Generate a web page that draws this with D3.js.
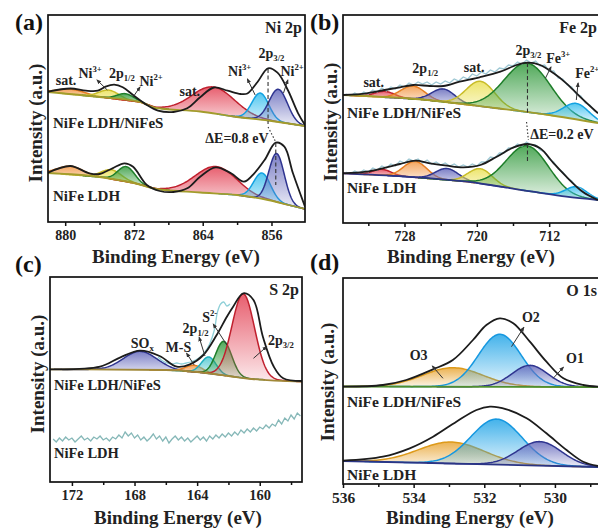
<!DOCTYPE html>
<html>
<head>
<meta charset="utf-8">
<script src="https://cdn.jsdelivr.net/npm/d3@7"></script>
<style>
  body { margin: 0; background: #fff; }
  svg { display: block; font-family: "Liberation Serif", "Times New Roman", serif; font-weight: bold; }
</style>
</head>
<body>
<div id="chart"></div>
<script>
// ---------- (a) Ni 2p ----------
const niTicks = [880, 872, 864, 856];
const niMinor = [876, 868, 860];
const niTopBase = [[882, 130], [876, 125], [871.3, 120], [869.4, 114], [864.3, 110.5], [860.4, 105.5], [856.4, 101.5], [852.1, 96]];
const niTopPeaks = [[879.3, 5, 3.7], [874.9, 8, 2.7], [873.0, 6.5, 2.3], [862.7, 26.5, 5.8], [857.3, 26.5, 2.3], [855.2, 32.7, 2.5]];
const niTopEnv = [[882, 130.3], [879.4, 133.5], [877.6, 131.3], [876.2, 131.3], [875.3, 135.3], [874.3, 137.3], [873.3, 134.7], [872.1, 127], [870.5, 117], [869.2, 111.3], [867.4, 110], [865.8, 113.7], [864.3, 124.7], [862.7, 134.5], [861.1, 131.3], [859.6, 128], [858.8, 128.5], [857.6, 140.3], [856.4, 153.7], [855.3, 149.3], [854.1, 132], [852.9, 108.7], [852.1, 97]];
const niBotBase = [[882, 49], [876, 45], [872, 39], [869.4, 33], [864.3, 29.5], [860, 27], [856.4, 22], [854, 17], [852.1, 13]];
const niBotPeaks = [[879.4, 8.5, 3.5], [874.6, 9.3, 2.7], [872.9, 15, 2.3], [862.5, 27, 5.6], [857.1, 26, 2.3], [855.4, 48.5, 2.1]];
const niBotEnv = [[882, 49.3], [879.4, 56], [877.2, 48.7], [876, 48], [874.5, 53.7], [873.1, 58.7], [872.1, 55.3], [870.5, 37], [869, 31], [867.4, 30], [865.8, 33.7], [864.3, 45.3], [862.5, 54.7], [860.7, 48.7], [859.2, 40.3], [858, 48.7], [856.8, 62], [855.5, 79.3], [854.5, 75.3], [853.5, 48.7], [852.1, 15.3]];
const niColors = ["orange", "yellow", "green", "red", "cyan", "purple"];
const niLabels = [
  [856.0, 164, "2p", "3/2", "sub"], [859.7, 146, "Ni", "3+", "sup"], [853.6, 146, "Ni", "2+", "sup"],
  [865.5, 126, "sat.", "", ""], [879.9, 137, "sat.", "", ""], [877.1, 144, "Ni", "3+", "sup"],
  [873.4, 144, "2p", "1/2", "sub"], [870.0, 136, "Ni", "2+", "sup"], [863.7, 79, "ΔE=0.8 eV", "", "", "start"]
];
const niArrows = [[857.9, 127, 858.8, 143], [854.6, 129, 854.1, 142], [875.1, 132, 876.3, 142], [872.1, 125, 871.3, 135]];
const niDashes = [[856.4, 153, 98], [855.5, 79, 37]];
const niDots = [[856.4, 95, 855.5, 80]];

// ---------- (b) Fe 2p ----------
const feTicks = [728, 720, 712];
const feMinor = [732, 724, 716, 708];
const feTopBase = [[734.8, 128], [726, 123.5], [718, 115], [712, 108], [706.6, 100]];
const feTopPeaks = [[730.2, 6, 2.6], [727.1, 13, 3.1], [723.7, 13, 3.0], [719.6, 25, 3.7], [714.4, 49, 6.0], [709.0, 16, 3.3]];
const feTopEnv = [[734.8, 128], [732.2, 129.7], [730.2, 133], [728.5, 135.7], [727.0, 138], [725.2, 137], [723.7, 137], [721.9, 141.3], [719.7, 145.7], [717.4, 151.3], [715.6, 158], [714.4, 160.3], [713, 158], [711.5, 149.7], [710.1, 139.7], [708.6, 126.3], [706.6, 109.7]];
const feTopRaw = [129, 127, 130, 128, 131, 129, 133, 131, 135, 132, 136, 134, 138, 136, 140, 138, 141, 139, 141, 138, 141, 139, 142, 140, 144, 142, 146, 144, 149, 147, 151, 149, 153, 151, 155, 154, 158, 157, 161, 159, 163, 160, 162, 157, 158, 152, 152, 145, 144, 138, 136, 129, 127, 120, 118, 112, 110];
const feBotBase = [[734.8, 49.7], [728, 46.5], [721.1, 41.3], [713.8, 31.3], [710.1, 26.3], [706.6, 23]];
const feBotPeaks = [[730.5, 6, 2.4], [726.8, 16, 3.0], [723.3, 11.5, 3.0], [719.6, 15, 3.1], [714.4, 45, 5.5], [709.0, 11, 2.8]];
const feBotEnv = [[734.8, 49.7], [732.2, 51.3], [730.4, 54.7], [728.5, 59], [726.8, 62.3], [725.2, 59.7], [723.3, 57.3], [721.5, 55.7], [719.6, 58], [717.8, 66.3], [716, 75.3], [714.4, 79], [713, 74.7], [711.5, 59.7], [710.1, 46.3], [708.3, 31.3], [706.6, 23]];
const feBotRaw = [51, 49, 52, 50, 53, 51, 55, 53, 57, 55, 59, 57, 62, 60, 64, 62, 64, 60, 63, 59, 61, 58, 60, 57, 59, 56, 58, 56, 59, 57, 61, 61, 66, 65, 70, 70, 75, 75, 79, 77, 81, 78, 78, 73, 71, 64, 61, 54, 51, 45, 42, 36, 34, 29, 28, 24, 23];
const feRawStart = 734.5, feRawStep = 0.5;
const feColors = ["red", "orange", "purple", "yellow", "green", "cyan"];
const feLabels = [
  [731.4, 136, "sat.", "", ""], [725.7, 150, "2p", "1/2", "sub"], [720.3, 151, "sat.", "", ""],
  [714.3, 168, "2p", "3/2", "sub"], [711.0, 160, "Fe", "3+", "sup"], [707.8, 145, "Fe", "2+", "sup"],
  [714.1, 84, "ΔE=0.2 eV", "", "", "start"]
];
const feArrows = [[712.4, 145, 711.8, 156], [709.0, 123, 708.8, 140]];
const feDashes = [[714.4, 160, 108], [714.4, 79, 60]];
const feDots = [[714.5, 101, 714.3, 83]];

// ---------- (c) S 2p ----------
const sTicks = [172, 168, 164, 160];
const sMinor = [170, 166, 162, 158];
const sTopBase = [[173.4, 112.7], [166, 112], [164, 110], [162, 106], [160.5, 103], [157.3, 100.3]];
const sTopPeaks = [[167.65, 18.5, 2.5], [164.2, 6.5, 1.3], [163.25, 16.5, 1.1], [162.3, 34, 1.2], [161.05, 84, 1.7]];
const sTopEnv = [[173.4, 112.7], [170.2, 115.3], [168.9, 124.7], [167.65, 131.3], [166.4, 126], [165.3, 115.3], [164.46, 117.7], [163.6, 127], [162.75, 147], [162.1, 165.3], [161.7, 175.3], [161.05, 188.7], [160.4, 182], [159.8, 145.3], [159.1, 115.3], [158.5, 103.7], [157.3, 101]];
const sTopRaw = [[166.5, 125], [166.2, 121], [165.9, 119], [165.6, 118], [165.3, 119], [165.0, 118], [164.7, 119], [164.4, 120], [164.1, 122], [163.8, 125], [163.5, 130], [163.2, 138], [162.9, 152], [162.7, 170], [162.5, 178], [162.3, 180], [162.1, 176], [161.9, 178]];
const sBotRaw = [43, 40, 44, 41, 45, 42, 44, 40, 43, 46, 42, 44, 41, 45, 43, 46, 42, 44, 41, 45, 43, 47, 44, 50, 46, 49, 44, 47, 42, 45, 41, 44, 48, 43, 46, 41, 45, 39, 43, 46, 42, 45, 41, 44, 40, 43, 46, 42, 45, 41, 46, 43, 47, 44, 48, 45, 49, 46, 50, 47, 52, 49, 53, 50, 54, 51, 55, 53, 57, 54, 58, 56, 62, 58, 64, 61, 67, 63, 69, 66];
const sRawStart = 173.2, sRawStep = 0.2;
const sColors = ["purple", "orange", "teal", "green", "red"];
const sLabels = [
  [167.5, 134, "SO", "x", "sub"], [165.2, 130, "M-S", "", ""], [164.1, 149, "2p", "1/2", "sub"],
  [163.2, 160, "S", "2-", "sup"], [158.65, 137, "2p", "3/2", "sub"]
];
const sArrows = [[164.19, 117, 164.67, 128.7], [163.5, 126, 163.87, 144.7], [162.1, 137, 162.97, 158], [160.4, 123.7, 159.56, 135.3]];

// ---------- (d) O 1s ----------
const oTicks = [536, 534, 532, 530];
const oMinor = [535, 533, 531, 529];
const oTopBase = [[536, 97.5], [528.78, 97]];
const oTopPeaks = [[532.89, 19, 2.0], [531.56, 52.5, 1.42], [530.71, 21.5, 1.2]];
const oTopEnv = [[536, 97.3], [534.87, 99], [534.21, 104], [533.45, 114.7], [532.89, 124], [532.32, 144], [531.94, 159], [531.56, 165.7], [531.18, 160.7], [530.71, 142.3], [530.24, 122.3], [529.76, 105.7], [529.2, 99], [528.78, 97.3]];
const oBotBase = [[536, 23], [528.78, 17]];
const oBotPeaks = [[532.93, 21.5, 2.2], [531.65, 45.5, 1.7], [530.43, 24, 1.45]];
const oBotEnv = [[536, 23.3], [534.87, 27.3], [534.11, 35.7], [533.45, 47.3], [532.79, 62.3], [532.22, 74], [531.84, 77.3], [531.37, 74.7], [530.8, 65.7], [530.24, 50.7], [529.67, 34], [529.2, 22.3], [528.78, 18]];
const oColors = ["gold", "blue", "purple"];
const oLabels = [[530.68, 162, "O2", "", ""], [533.86, 124, "O3", "", ""], [529.43, 121, "O1", "", ""]];
const oArrows = [[531.23, 137.3, 530.88, 156.7], [533.17, 105.7, 533.47, 118], [530.05, 105.7, 529.76, 116.7]];

// ---------- styles ----------
const palette = {
  orange: ["#f39a4a", "#e67e22"], yellow: ["#ebe25a", "#c9bd2a"], green: ["#3a9e44", "#1e7e2a"],
  red: ["#e4485a", "#c0202e"], cyan: ["#3cc0ee", "#12a2e2"], purple: ["#6a6ebe", "#2f3590"],
  teal: ["#50c8d0", "#20b0c0"], gold: ["#e9a83a", "#dd9a1a"], blue: ["#2aa8e8", "#1698e0"]
};
const olive = "#a39c2c", navy = "#2b3585", envColor = "#1c1c1c";

const panels = [
  { id: "a", x0: 48, xr: 305, right: 305, y0: 15, y1: 222, dom: [882, 852.1], ticks: niTicks, minor: niMinor, tickFont: 14,
    tag: [15, 30], head: "Ni 2p", headX: 302, ytitle: [42, 123], xtitle: [176, 263], sample: 15,
    spectra: [
      { base: niTopBase, baseColor: olive, peaks: niTopPeaks, colors: niColors, env: niTopEnv, name: "NiFe LDH/NiFeS", at: 94 },
      { base: niBotBase, baseColor: olive, peaks: niBotPeaks, colors: niColors, env: niBotEnv, name: "NiFe LDH", at: 21 }
    ], labels: niLabels, arrows: niArrows, dashes: niDashes, dots: niDots },
  { id: "b", x0: 343, xr: 598, right: 620, y0: 15, y1: 223, dom: [734.8, 706.6], ticks: feTicks, minor: feMinor, tickFont: 14,
    tag: [310, 30], head: "Fe 2p", headX: 597, ytitle: [337, 122], xtitle: [471, 263], sample: 15.5,
    spectra: [
      { base: feTopBase, baseColor: olive, peaks: feTopPeaks, colors: feColors, env: feTopEnv, raw: feTopRaw, name: "NiFe LDH/NiFeS", at: 105 },
      { base: feBotBase, baseColor: navy, peaks: feBotPeaks, colors: feColors, env: feBotEnv, raw: feBotRaw, name: "NiFe LDH", at: 30 }
    ], rawStart: feRawStart, rawStep: feRawStep, rawColor: "#9ec8d4",
    labels: feLabels, arrows: feArrows, dashes: feDashes, dots: feDots },
  { id: "c", x0: 50, xr: 302, right: 302, y0: 277, y1: 482, dom: [173.4, 157.3], ticks: sTicks, minor: sMinor, tickFont: 14.5,
    tag: [15, 272], head: "S 2p", headX: 299, ytitle: [44, 374], xtitle: [178, 524], sample: 14.5,
    spectra: [
      { base: sTopBase, baseColor: "#a08838", peaks: sTopPeaks, colors: sColors, env: sTopEnv, rawPts: sTopRaw, name: "NiFe LDH/NiFeS", at: 92 },
      { raw: sBotRaw, name: "NiFe LDH", at: 24 }
    ], rawStart: sRawStart, rawStep: sRawStep, rawColor: "#86b8b8",
    labels: sLabels, arrows: sArrows, dashes: [], dots: [] },
  { id: "d", x0: 343, xr: 598, right: 620, y0: 278, y1: 484, dom: [536, 528.78], ticks: oTicks, minor: oMinor, tickFont: 15.5,
    tag: [310, 270], head: "O 1s", headX: 597, ytitle: [334, 382], xtitle: [470, 524], sample: 15.5,
    spectra: [
      { base: oTopBase, baseColor: "#4f8f2e", peaks: oTopPeaks, colors: oColors, env: oTopEnv, name: "NiFe LDH/NiFeS", at: 77 },
      { base: oBotBase, baseColor: navy, peaks: oBotPeaks, colors: oColors, env: oBotEnv, name: "NiFe LDH", at: 4 }
    ], labels: oLabels, arrows: oArrows, dashes: [], dots: [] }
];

// ---------- drawing ----------
const svg = d3.select("#chart").append("svg").attr("width", 598).attr("height", 528);
svg.append("rect").attr("width", 598).attr("height", 528).attr("fill", "#fff");
const defs = svg.append("defs");
defs.append("marker").attr("id", "arrow")
  .attr("viewBox", "0 0 10 10").attr("refX", 8).attr("refY", 5)
  .attr("markerWidth", 5).attr("markerHeight", 5).attr("orient", "auto")
  .append("path").attr("d", "M0,1L10,5L0,9z").attr("fill", "#333");

const gauss = (e, p) => p[1] * Math.exp(-4 * Math.LN2 * ((e - p[0]) / p[2]) ** 2);

function richText(g, x, y, main, small, kind, size, anchor) {
  const t = g.append("text").attr("x", x).attr("y", y).attr("font-size", size)
    .attr("text-anchor", anchor || "middle").attr("fill", "#222");
  t.append("tspan").text(main);
  if (small) {
    const shift = kind === "sup" ? -size * 0.4 : size * 0.22;
    t.append("tspan").attr("font-size", size * 0.62).attr("dy", shift).text(small);
  }
  return t;
}

panels.forEach(p => {
  const sx = d3.scaleLinear().domain(p.dom).range([p.x0, p.xr]);
  const sy = d3.scaleLinear().domain([0, p.y1 - p.y0]).range([p.y1, p.y0]);
  const g = svg.append("g");

  defs.append("clipPath").attr("id", "clip-" + p.id)
    .append("rect").attr("x", p.x0).attr("y", p.y0)
    .attr("width", Math.min(p.right, 598) - p.x0).attr("height", p.y1 - p.y0);
  const plot = g.append("g").attr("clip-path", `url(#clip-${p.id})`);

  p.spectra.forEach((s, si) => {
    if (s.peaks) {
      const bf = d3.scaleLinear().domain(s.base.map(d => d[0])).range(s.base.map(d => d[1]));
      s.peaks.forEach((pk, pi) => {
        const col = palette[s.colors[pi]];
        const gid = `grad-${p.id}-${si}-${pi}`;
        const gr = defs.append("linearGradient").attr("id", gid).attr("x1", 0).attr("y1", 0).attr("x2", 0).attr("y2", 1);
        gr.append("stop").attr("offset", "0%").attr("stop-color", col[0]).attr("stop-opacity", 0.88);
        gr.append("stop").attr("offset", "100%").attr("stop-color", col[0]).attr("stop-opacity", 0.12);

        const lo = Math.max(Math.min(...p.dom), pk[0] - 2.2 * pk[2]);
        const hi = Math.min(Math.max(...p.dom), pk[0] + 2.2 * pk[2]);
        const es = d3.range(lo, hi, pk[2] / 40).concat([hi]);
        const area = d3.area().x(e => sx(e)).y0(e => sy(bf(e))).y1(e => sy(bf(e) + gauss(e, pk)));
        const top = d3.line().x(e => sx(e)).y(e => sy(bf(e) + gauss(e, pk)));
        plot.append("path").attr("d", area(es)).attr("fill", `url(#${gid})`);
        plot.append("path").attr("d", top(es)).attr("fill", "none").attr("stroke", col[1]).attr("stroke-width", 1.5);
      });
    }
    if (s.raw) {
      const raw = d3.line().x((v, i) => sx(p.rawStart - i * p.rawStep)).y(v => sy(v));
      plot.append("path").attr("d", raw(s.raw)).attr("fill", "none")
        .attr("stroke", p.rawColor).attr("stroke-width", 1.3);
    }
    if (s.rawPts) {
      plot.append("path").attr("d", d3.line().x(d => sx(d[0])).y(d => sy(d[1])).curve(d3.curveCatmullRom)(s.rawPts))
        .attr("fill", "none").attr("stroke", "#8fd0d8").attr("stroke-width", 1.3);
    }
    if (s.base) {
      plot.append("path").attr("d", d3.line().x(d => sx(d[0])).y(d => sy(d[1])).curve(d3.curveMonotoneX)(s.base))
        .attr("fill", "none").attr("stroke", s.baseColor).attr("stroke-width", 1.8);
    }
    if (s.env) {
      plot.append("path").attr("d", d3.line().x(d => sx(d[0])).y(d => sy(d[1])).curve(d3.curveCatmullRom.alpha(0.5))(s.env))
        .attr("fill", "none").attr("stroke", envColor).attr("stroke-width", 1.8);
    }
    // sample name
    g.append("text").attr("x", p.x0 + (p.id === "a" ? 5 : 4)).attr("y", sy(s.at))
      .attr("font-size", p.sample).attr("fill", "#222").text(s.name);
  });

  // dashed position markers
  p.dashes.forEach(d => {
    g.append("line").attr("x1", sx(d[0])).attr("x2", sx(d[0])).attr("y1", sy(d[1])).attr("y2", sy(d[2]))
      .attr("stroke", "#333").attr("stroke-width", 1.1).attr("stroke-dasharray", "4,2.5");
  });
  p.dots.forEach(d => {
    g.append("line").attr("x1", sx(d[0])).attr("x2", sx(d[2])).attr("y1", sy(d[1])).attr("y2", sy(d[3]))
      .attr("stroke", "#333").attr("stroke-width", 1.1).attr("stroke-dasharray", "1.5,2");
  });

  // pointer arrows
  p.arrows.forEach(a => {
    g.append("line").attr("x1", sx(a[0])).attr("y1", sy(a[1])).attr("x2", sx(a[2])).attr("y2", sy(a[3]))
      .attr("stroke", "#333").attr("stroke-width", 1).attr("marker-end", "url(#arrow)");
  });

  // peak labels
  p.labels.forEach(l => richText(g, sx(l[0]), sy(l[1]), l[2], l[3], l[4], 14, l[5]));

  // frame
  g.append("rect").attr("x", p.x0).attr("y", p.y0).attr("width", p.right - p.x0).attr("height", p.y1 - p.y0)
    .attr("fill", "none").attr("stroke", "#111").attr("stroke-width", 1.7);

  // x axis
  const major = d3.axisBottom(sx).tickValues(p.ticks).tickSize(4).tickPadding(4).tickFormat(d3.format("d"));
  const minor = d3.axisBottom(sx).tickValues(p.minor).tickSize(3).tickFormat("");
  [major, minor].forEach(ax => {
    const ag = g.append("g").attr("transform", `translate(0,${p.y1})`).call(ax);
    ag.select(".domain").remove();
    ag.attr("font-family", null).attr("font-size", p.tickFont);
    ag.selectAll("line").attr("stroke", "#111").attr("stroke-width", 1.5);
    ag.selectAll("text").attr("fill", "#222");
  });

  // titles
  g.append("text").attr("x", p.tag[0]).attr("y", p.tag[1]).attr("font-size", 24).attr("fill", "#111").text(`(${p.id})`);
  g.append("text").attr("x", p.headX).attr("y", p.y0 + 18).attr("font-size", 16)
    .attr("text-anchor", "end").attr("fill", "#222").text(p.head);
  g.append("text").attr("transform", `translate(${p.ytitle[0]},${p.ytitle[1]}) rotate(-90)`)
    .attr("text-anchor", "middle").attr("font-size", 19).attr("fill", "#222").text("Intensity (a.u.)");
  g.append("text").attr("x", p.xtitle[0]).attr("y", p.xtitle[1]).attr("text-anchor", "middle")
    .attr("font-size", 19).attr("fill", "#222").text("Binding Energy (eV)");
});
</script>
</body>
</html>
